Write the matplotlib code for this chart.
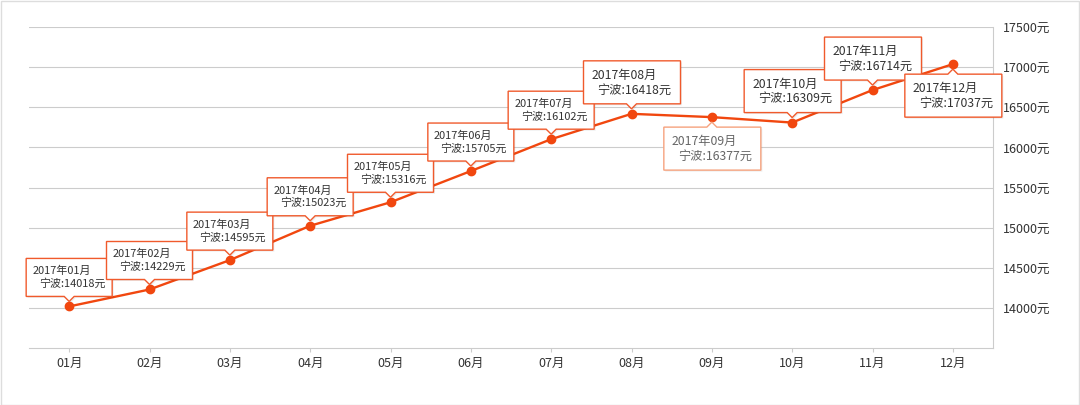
import matplotlib
matplotlib.use("Agg")
import matplotlib.pyplot as plt
from matplotlib.path import Path
from matplotlib.patches import PathPatch, Rectangle
import matplotlib.transforms as mtransforms

plt.rcParams['font.family'] = ['Noto Sans CJK SC', 'DejaVu Sans']

# ---- data ----
months = ["01月", "02月", "03月", "04月", "05月", "06月",
          "07月", "08月", "09月", "10月", "11月", "12月"]
periods = ["2017年01月", "2017年02月", "2017年03月", "2017年04月", "2017年05月", "2017年06月",
           "2017年07月", "2017年08月", "2017年09月", "2017年10月", "2017年11月", "2017年12月"]
city = "宁波"
prices = [14018, 14229, 14595, 15023, 15316, 15705,
          16102, 16418, 16377, 16309, 16714, 17037]
y_ticks = [14000, 14500, 15000, 15500, 16000, 16500, 17000, 17500]

# ---- styles ----
label_below = [False] * 8 + [True, False, False, True]
label_large = [False] * 7 + [True] * 5
label_dim = [False] * 8 + [True, False, False, False]

LINE = '#f1470f'
EDGE = '#f05a2c'
EDGE_DIM = '#f6a27e'
GRID = '#cccccc'
TXT = '#333333'

W, H = 1080, 406
fig = plt.figure(figsize=(W / 100, H / 100), dpi=100)
ax = fig.add_axes([29 / W, 57 / H, (993 - 29) / W, (349 - 28) / H])

x = list(range(len(months)))
ax.plot(x, prices, color=LINE, lw=1.7, marker='o', ms=6, mec=LINE, mfc=LINE, zorder=3)

ax.set_xlim(-0.5, len(months) - 0.5)
ax.set_ylim(13500, 17500)
ax.set_yticks(y_ticks)
ax.set_yticklabels([f"{v}元" for v in y_ticks])
ax.yaxis.tick_right()
ax.tick_params(axis='y', length=0, pad=7, labelsize=9, labelcolor=TXT)
ax.set_xticks(x)
ax.set_xticklabels(months)
ax.tick_params(axis='x', length=3, color=GRID, pad=3, labelsize=9, labelcolor=TXT)
ax.grid(axis='y', color=GRID, lw=0.8)
ax.set_axisbelow(True)
for s in ['left', 'top']:
    ax.spines[s].set_visible(False)
ax.spines['right'].set_color(GRID)
ax.spines['bottom'].set_color(GRID)
ax.spines['right'].set_linewidth(0.8)
ax.spines['bottom'].set_linewidth(0.8)

# outer border
fig.patches.append(Rectangle((0.5 / W, 0.5 / H), (W - 2) / W, (H - 2) / H,
                             transform=fig.transFigure, fill=False,
                             ec='#dddddd', lw=1))

fig.canvas.draw()

for i, v in enumerate(prices):
    px, py = ax.transData.transform((i, v))
    large = label_large[i]
    below = label_below[i]
    if large:
        l, r, h = -48, 49, 43
        fs = 8.8
        t1, t2 = 13.5, 28
        pl, pr = 8, 9
    else:
        l, r, h = -43, 43, 38
        fs = 7.9
        t1, t2 = 11.5, 24
        pl, pr = 6, 7
    gap = 10
    pw, ph = 5, 5
    if not below:
        b = gap
        t = b + h
        verts = [(l, b), (-pw, b), (0, b - ph), (pw, b), (r, b), (r, t), (l, t), (l, b)]
    else:
        t = -gap
        b = t - h
        verts = [(l, t), (-pw, t), (0, t + ph), (pw, t), (r, t), (r, b), (l, b), (l, t)]
    y1 = t - t1
    y2 = t - t2
    codes = [Path.MOVETO] + [Path.LINETO] * (len(verts) - 2) + [Path.CLOSEPOLY]
    trans = mtransforms.Affine2D().translate(px, py)
    shadow = PathPatch(Path(verts, codes), transform=mtransforms.Affine2D().translate(px + 1.5, py - 1.5),
                       fc='#00000012', ec='none', zorder=4)
    shadow.set_clip_on(False)
    fig.add_artist(shadow)
    patch = PathPatch(Path(verts, codes), transform=trans, fc='white',
                      ec=EDGE_DIM if label_dim[i] else EDGE, lw=1.0, zorder=5)
    patch.set_clip_on(False)
    fig.add_artist(patch)
    col = '#666666' if label_dim[i] else TXT
    fig.text((px + l + pl) / W, (py + y1) / H, periods[i], ha='left', va='center',
             fontsize=fs, color=col, zorder=6)
    fig.text((px + r - pr) / W, (py + y2) / H, f"{city}:{v}元", ha='right', va='center',
             fontsize=fs, color=col, zorder=6)

fig.savefig("out.png", dpi=100)
